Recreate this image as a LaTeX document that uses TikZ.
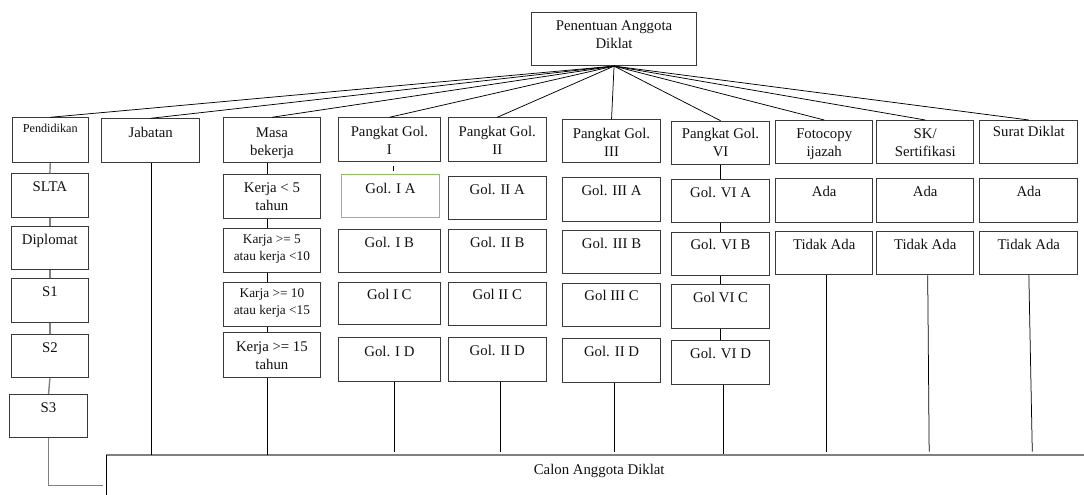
\documentclass[tikz,border=0pt]{standalone}
\usepackage{fontspec}
\setmainfont{Liberation Serif}
\usetikzlibrary{calc}
\definecolor{boxline}{HTML}{3A3A3A}
\definecolor{inktext}{HTML}{111111}
\definecolor{linkgray}{HTML}{808080}
\definecolor{cellgreen}{HTML}{8CC063}
% box content: [first baseline]{width}{height}{text}, text hangs from the top
\newcommand\cellbox[4][17.5pt]{\parbox[t][#3pt][t]{#2pt}{\centering\rule{0pt}{#1}#4}}

\begin{document}
\begin{tikzpicture}[x=1pt,y=-1pt,
  cell/.style={draw=boxline, line width=1.1pt, inner sep=0pt, anchor=north west,
    text=inktext, font=\fontsize{14.8}{18}\selectfont},
  smallcell/.style={font=\fontsize{13.3}{17}\selectfont},
  link/.style={draw=black, line width=0.75pt},
  glink/.style={draw=linkgray, line width=1.4pt},
]
\useasboundingbox (0,0) rectangle (1084,495);
\clip (0,0) rectangle (1084,495);

% root
\node[cell] (top) at (531,12) {\cellbox[18pt]{165}{53}{Penentuan Anggota\\Diklat}};

% criteria
\node[cell,font=\fontsize{12.2}{15}\selectfont] (pend) at (11.7,117.3) {\cellbox[15pt]{76}{44.4}{Pendidikan}};
\node[cell] (jab)   at (101,118.3)   {\cellbox[19pt]{98.3}{43.4}{Jabatan}};
\node[cell] (masa)  at (222.7,117.3) {\cellbox[19.5pt]{97.3}{45}{Masa\\bekerja}};
\node[cell] (p1)    at (337.7,117.3) {\cellbox[18.5pt]{102.3}{43.7}{Pangkat Gol.\\I}};
\node[cell] (p2)    at (447.7,117.3) {\cellbox[18.5pt]{98}{43.7}{Pangkat Gol.\\II}};
\node[cell] (p3)    at (562,119)     {\cellbox[18.5pt]{98}{43.3}{Pangkat Gol.\\III}};
\node[cell] (p6)    at (671,120.7)   {\cellbox[17.5pt]{98}{43.3}{Pangkat Gol.\\VI}};
\node[cell] (foto)  at (775,120)     {\cellbox[18pt]{97.3}{43.3}{Fotocopy\\ijazah}};
\node[cell] (sk)    at (876,120)     {\cellbox[18pt]{97.3}{43.3}{SK/\\Sertifikasi}};
\node[cell] (surat) at (979.3,120)   {\cellbox[16pt]{98}{43.3}{Surat Diklat}};

% education levels
\node[cell] (slta) at (11,173.3) {\cellbox{76.7}{43.4}{SLTA}};
\node[cell] (dipl) at (11,226)   {\cellbox{76.7}{43.3}{Diplomat}};
\node[cell] (sa)   at (11,278.3) {\cellbox{76.7}{43.4}{S1}};
\node[cell] (sb)   at (11,334)   {\cellbox{76.7}{43.3}{S2}};
\node[cell] (sc)   at (9.3,394)  {\cellbox{77.4}{43.3}{S3}};

% length of service
\node[cell] (ka) at (222.7,174)   {\cellbox[17.5pt]{97.3}{44.3}{Kerja < 5\\tahun}};
\node[cell,smallcell] (kb) at (222.7,228.3) {\cellbox[15pt]{97.3}{44}{Karja >= 5\\atau kerja <10}};
\node[cell,smallcell] (kc) at (222.7,282.3) {\cellbox[15pt]{97.3}{43.7}{Karja >= 10\\atau kerja <15}};
\node[cell] (kd) at (222.7,332.3) {\cellbox[19pt]{97.3}{44.4}{Kerja >= 15\\tahun}};

% grade I
\node[cell,draw=cellgreen] (ga1) at (340.7,174) {\cellbox[19pt]{98.3}{43.3}{Gol. I A}};
\node[cell] (gb1) at (337.7,229)   {\cellbox{102.3}{43.3}{Gol. I B}};
\node[cell] (gc1) at (337.7,281.7) {\cellbox{102.3}{42.3}{Gol I C}};
\node[cell] (gd1) at (337.7,337.3) {\cellbox[19pt]{102.3}{43.4}{Gol. I D}};

% grade II
\node[cell] (ga2) at (447.7,176)   {\cellbox{98}{43.3}{Gol. II A}};
\node[cell] (gb2) at (447.7,229)   {\cellbox{98}{43.3}{Gol. II B}};
\node[cell] (gc2) at (447.7,281.7) {\cellbox{98}{43.3}{Gol II C}};
\node[cell] (gd2) at (447.7,337.3) {\cellbox{98}{43.3}{Gol. II D}};

% grade III
\node[cell] (ga3) at (562,177.3) {\cellbox{98}{43.4}{Gol. III A}};
\node[cell] (gb3) at (562,230)   {\cellbox{98}{43.3}{Gol. III B}};
\node[cell] (gc3) at (562,282.7) {\cellbox{98}{43.3}{Gol III C}};
\node[cell] (gd3) at (562,338.3) {\cellbox{98}{43.4}{Gol. II D}};

% grade VI
\node[cell] (ga6) at (671,179)   {\cellbox{98}{43.3}{Gol. VI A}};
\node[cell] (gb6) at (671,231.7) {\cellbox{98}{43.3}{Gol. VI B}};
\node[cell] (gc6) at (671,284.3) {\cellbox{98}{44}{Gol VI C}};
\node[cell] (gd6) at (671,340)   {\cellbox{98}{44}{Gol. VI D}};

% documents
\node[cell] (ada1) at (775,178.3)   {\cellbox{97.3}{43.4}{Ada}};
\node[cell] (tdk1) at (775,231)     {\cellbox{97.3}{43.3}{Tidak Ada}};
\node[cell] (ada2) at (876,178.3)   {\cellbox{97.3}{43.4}{Ada}};
\node[cell] (tdk2) at (876,231)     {\cellbox{97.3}{43.3}{Tidak Ada}};
\node[cell] (ada3) at (979.3,178.3) {\cellbox{98}{43.4}{Ada}};
\node[cell] (tdk3) at (979.3,231)   {\cellbox{98}{43.3}{Tidak Ada}};

% result
\node[anchor=north west, inner sep=0pt, text=inktext, font=\fontsize{14.8}{18}\selectfont]
  (calon) at (106,455) {\cellbox[19pt]{986}{60}{Calon Anggota Diklat}};
\draw[glink, line width=1.8pt] (calon.north west) -- (calon.north east);
\draw[draw=black, line width=1pt] (calon.north west) -- (calon.south west);
\coordinate (scend) at (103,485.7);

% fan-out from the root
\foreach \n in {pend,jab,masa,p1,p2,p3,p6,foto,sk,surat}
  \draw[link] (top.south) -- (\n.north);

% education chain
\draw[glink] (pend.south) -- (slta.north);
\draw[glink] (slta.south) -- (dipl.north);
\draw[glink] (dipl.south) -- (sa.north);
\draw[glink] (sa.south) -- (sb.north);
\draw[glink] (sb.south) -- (sc.north);
\draw[glink] (sc.south) |- (scend);

% position
\draw[link] ([xshift=1pt]jab.south) -- ([xshift=1pt]jab.south |- calon.north);

% service chain
\foreach \a/\b in {masa/ka,ka/kb,kb/kc,kc/kd}
  \draw[link] ([xshift=-4.6pt]\a.south) -- ([xshift=-4.6pt]\b.north);
\draw[link] ([xshift=-4.6pt]kd.south) -- ([xshift=-4.6pt]kd.south |- calon.north);

% grade I
\draw[link, shorten <=4pt, shorten >=3pt] ([xshift=3.8pt]p1.south) -- ([xshift=3.8pt]p1.south |- ga1.north);
\draw[link, shorten >=3.5pt] ([xshift=5.4pt]gd1.south) -- ([xshift=5.4pt]gd1.south |- calon.north);

% grades II and III
\draw[link, shorten >=3.5pt] ([xshift=3.6pt]gd2.south) -- ([xshift=3.6pt]gd2.south |- calon.north);
\draw[link, shorten >=3.5pt] ([xshift=3.3pt]gd3.south) -- ([xshift=3.3pt]gd3.south |- calon.north);

% grade VI chain
\foreach \a/\b in {p6/ga6,ga6/gb6,gb6/gc6,gc6/gd6}
  \draw[link] (\a.south) -- (\b.north);
\draw[link, shorten >=1pt] ([xshift=2.7pt]gd6.south) -- ([xshift=2.7pt]gd6.south |- calon.north);

% documents
\draw[link, shorten >=3.5pt] ([xshift=2.3pt]tdk1.south) -- ([xshift=2.3pt]tdk1.south |- calon.north);
\draw[link, shorten >=3.5pt] ([xshift=2.5pt]tdk2.south) -- ([xshift=4pt]tdk2.south |- calon.north);
\draw[link, shorten >=3.5pt] (tdk3.south) -- ([xshift=3.5pt]tdk3.south |- calon.north);
\end{tikzpicture}
\end{document}
